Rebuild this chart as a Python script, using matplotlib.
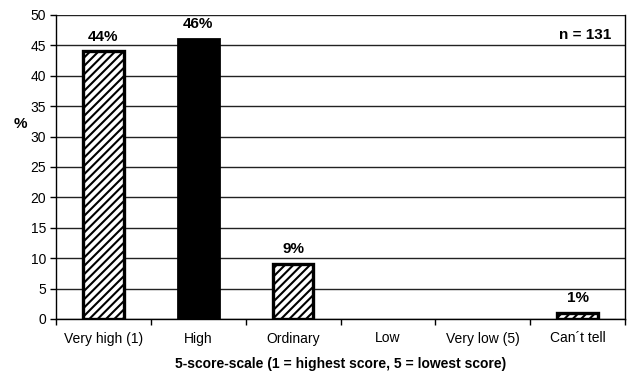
import matplotlib
matplotlib.use("Agg")
import matplotlib.pyplot as plt
import numpy as np

categories = ["Very high (1)", "High", "Ordinary", "Low", "Very low (5)", "Can\u00b4t tell"]
values = [44, 46, 9, 0, 0, 1]
labels = ["44%", "46%", "9%", "", "", "1%"]
solid = [False, True, False, False, False, False]

plt.rcParams['font.family'] = ['Liberation Sans', 'DejaVu Sans']
plt.rcParams['hatch.linewidth'] = 1.5

fig = plt.figure(figsize=(6.29, 3.74), dpi=100)
ax = fig.add_axes([56 / 629, 55 / 374, (625 - 56) / 629, (319 - 15) / 374])

x = np.arange(len(categories))
for xi, v, s, lab in zip(x, values, solid, labels):
    if v <= 0:
        continue
    if s:
        ax.bar(xi, v, width=0.43, color="black", edgecolor="black", linewidth=2, zorder=3)
    else:
        ax.bar(xi, v, width=0.43, color="white", edgecolor="black", hatch="////",
               linewidth=2.4, zorder=3)
    ax.text(xi, v + 1.3, lab, ha="center", va="bottom", fontsize=11,
            fontweight="bold", zorder=4)

ax.set_xlim(-0.5, len(categories) - 0.5)
ax.set_ylim(0, 50)
ax.set_yticks(np.arange(0, 51, 5))
ax.yaxis.grid(True, color="#222222", linewidth=1.0, zorder=0)
ax.set_axisbelow(True)

ax.set_xticks(x)
ax.set_xticklabels(categories, fontsize=10)
ax.tick_params(axis="x", length=0, pad=9)
ax.set_xticks(np.arange(-0.5, len(categories)), minor=True)
ax.tick_params(axis="x", which="minor", length=4, width=1, direction="out")
ax.tick_params(axis="y", labelsize=10, length=4, width=1, direction="out", pad=3)

for side in ["left", "bottom", "right"]:
    ax.spines[side].set_color("black")
    ax.spines[side].set_linewidth(1.0)
ax.spines["top"].set_visible(False)

ax.set_ylabel("%", fontsize=11, fontweight="bold", rotation=0, labelpad=12, va="center")
ax.yaxis.set_label_coords(-0.063, 0.64)
ax.set_xlabel("5-score-scale (1 = highest score, 5 = lowest score)", fontsize=10,
              fontweight="bold", labelpad=8)

ax.text(0.975, 0.935, "n = 131", transform=ax.transAxes, ha="right", va="center",
        fontsize=11, fontweight="bold")

fig.savefig("out.png", dpi=100)
